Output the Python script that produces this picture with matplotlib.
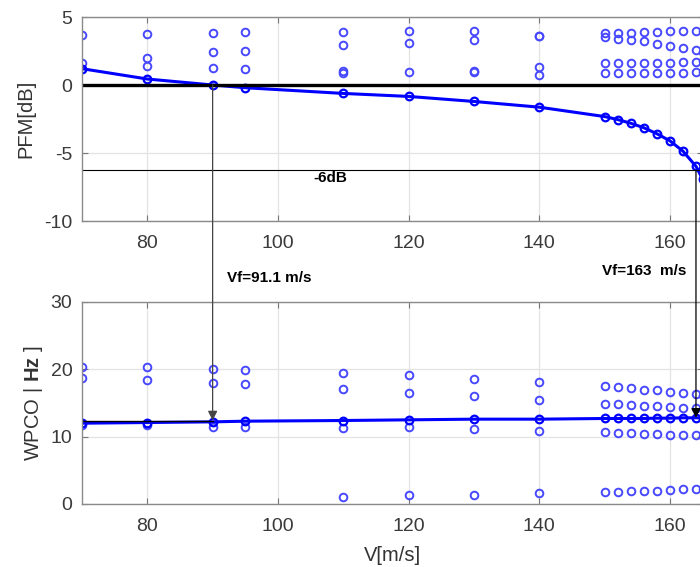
import numpy as np
import matplotlib
matplotlib.use("Agg")
import matplotlib.pyplot as plt
from matplotlib.patches import ConnectionPatch

plt.rcParams['font.family'] = ['Liberation Sans', 'DejaVu Sans']
plt.rcParams['mathtext.fontset'] = 'custom'
plt.rcParams['mathtext.bf'] = 'Liberation Sans:bold'
plt.rcParams['mathtext.rm'] = 'Liberation Sans'
plt.rcParams['axes.unicode_minus'] = False

nan = np.nan
# velocities [m/s]
velocity = [70, 80, 90, 95, 110, 120, 130, 140, 150, 152, 154, 156, 158, 160, 162, 164, 165]

# PFM [dB] - tracked (critical) mode
pfm_main = [1.2, 0.44, 0.0, -0.2, -0.62, -0.84, -1.21, -1.63, -2.32, -2.54, -2.81, -3.14,
            -3.58, -4.1, -4.86, -5.98, -6.9]
# PFM [dB] - other modes
pfm_a = [3.65, 3.78, 3.83, 3.88, 3.9, 3.95, 3.95, 3.63, 3.83, 3.83, 3.83, 3.88, 3.9, 3.95, 3.95, 4.0, 4.0]
pfm_b = [nan, 2.02, 2.39, 2.52, 2.96, 3.09, 3.33, 3.58, 3.5, 3.39, 3.33, 3.21, 3.04, 2.89, 2.72, 2.54, 2.4]
pfm_c = [1.6, 1.43, 1.28, 1.18, 1.04, 0.99, 1.0, 1.36, 1.6, 1.62, 1.63, 1.63, 1.65, 1.65, 1.67, 1.7, 1.75]
pfm_d = [nan, nan, nan, nan, 0.85, nan, 0.95, 0.74, 0.91, 0.88, 0.88, 0.88, 0.88, 0.88, 0.9, 0.92, 0.95]

# WPCO [Hz] - tracked mode
wpco_main = [12.0, 12.1, 12.2, 12.3, 12.4, 12.5, 12.6, 12.6, 12.7, 12.7, 12.7, 12.7, 12.75, 12.75,
             12.8, 12.8, 12.8]
# WPCO [Hz] - other modes
wpco_a = [20.4, 20.3, 20.0, 19.9, 19.4, 19.1, 18.6, 18.1, 17.5, 17.4, 17.2, 17.0, 16.9, 16.6, 16.5, 16.3, 16.2]
wpco_b = [18.7, 18.45, 17.95, 17.8, 17.05, 16.5, 16.0, 15.5, 14.9, 14.8, 14.7, 14.6, 14.5, 14.4, 14.3, 14.2, 14.1]
wpco_c = [11.8, 11.8, 11.5, 11.5, 11.3, 11.4, 11.1, 10.9, 10.7, 10.6, 10.5, 10.4, 10.35, 10.3, 10.2, 10.2, 10.1]
wpco_d = [nan, nan, nan, nan, 1.1, 1.3, 1.35, 1.7, 1.83, 1.85, 1.9, 2.0, 2.0, 2.1, 2.2, 2.2, 2.3]

vf1, vf2 = 90, 164
db6 = -6.25
wpco_vf1 = 12.4
wpco_vf2 = 12.8

fig = plt.figure(figsize=(7.0, 5.67), dpi=100)
W, H = 700, 567
ax1 = fig.add_axes([82 / W, (H - 221) / H, (702.5 - 82) / W, 204 / H])
ax2 = fig.add_axes([82 / W, (H - 504) / H, (702.5 - 82) / W, 202 / H])

blue = '#0000ff'
light = '#4848ff'

for ax in (ax1, ax2):
    ax.set_xlim(70, 165)
    ax.set_xticks([80, 100, 120, 140, 160])
    ax.grid(True, color='#e3e3e3', lw=0.9)
    ax.set_axisbelow(True)
    ax.tick_params(direction='in', length=4, top=True, right=True, labelsize=14,
                   colors='#777777', labelcolor='#3a3a3a', pad=7)
    ax.tick_params(axis='x', pad=10)
    for s in ax.spines.values():
        s.set_color('#8a8a8a')
        s.set_linewidth(1.0)

# upper
for arr in (pfm_a, pfm_b, pfm_c, pfm_d):
    ax1.plot(velocity, arr, ls='none', marker='o', mfc='none', mec=light, ms=5.5, mew=1.4)
ax1.plot(velocity, pfm_main, '-o', color=blue, lw=2.2, mfc='none', mec=blue, ms=5.5, mew=1.6)
ax1.axhline(0, color='black', lw=2.4)
ax1.axhline(db6, color='black', lw=0.8)
ax1.set_ylim(-10, 5)
ax1.set_yticks([-10, -5, 0, 5])
ax1.set_ylabel('PFM[dB]', fontsize=14.5, color='#333333', labelpad=6)

# lower
for arr in (wpco_a, wpco_b, wpco_c, wpco_d):
    ax2.plot(velocity, arr, ls='none', marker='o', mfc='none', mec=light, ms=5.5, mew=1.4)
ax2.plot(velocity, wpco_main, '-o', color=blue, lw=2.2, mfc='none', mec=blue, ms=5.5, mew=1.6)
ax2.plot([70, vf1], [wpco_vf1, wpco_vf1], color='black', lw=1.0)
ax2.set_ylim(0, 30)
ax2.set_yticks([0, 10, 20, 30])
ax2.set_ylabel('WPCO | $\\mathbf{Hz}$ ]', fontsize=14.5, color='#333333', labelpad=4)
ax2.set_xlabel('V[m/s]', fontsize=14.5, color='#333333', labelpad=8)

# connecting arrows
for xv, ya, yb, col in ((vf1, 0.0, wpco_vf1, '#444444'), (vf2, db6, wpco_vf2, 'black')):
    con = ConnectionPatch(xyA=(xv, ya), coordsA=ax1.transData,
                          xyB=(xv, yb), coordsB=ax2.transData,
                          arrowstyle='-|>', mutation_scale=14, color=col, lw=0.9,
                          shrinkA=0, shrinkB=0)
    fig.add_artist(con)

fig.text(227 / W, 1 - 278 / H, 'Vf=91.1 m/s', fontsize=11, fontweight='bold', va='center', ha='left')
fig.text(602 / W, 1 - 271 / H, 'Vf=163  m/s', fontsize=11, fontweight='bold', va='center', ha='left')
fig.text(313 / W, 1 - 178 / H, '-6dB', fontsize=11, fontweight='bold', va='center', ha='left')

fig.savefig('out.png', dpi=100)
